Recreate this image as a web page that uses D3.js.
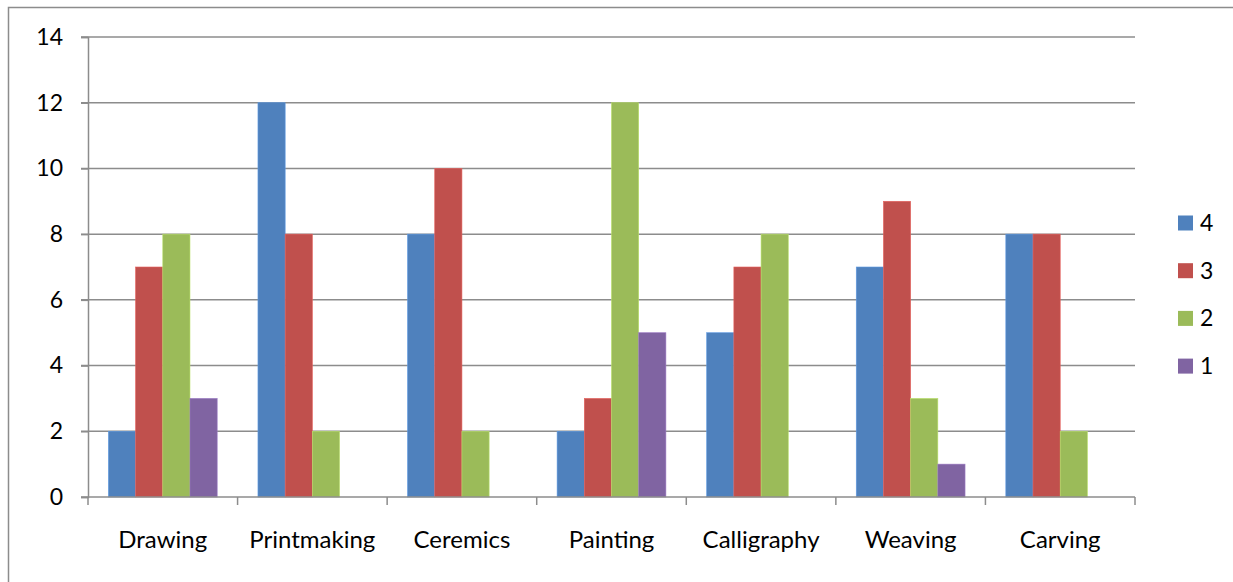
<!DOCTYPE html>
<html>
<head>
<meta charset="utf-8">
<script src="https://cdn.jsdelivr.net/npm/d3@7/dist/d3.min.js"></script>
<style>
  html, body { margin: 0; padding: 0; background: #fff; }
  svg { display: block; }
  text { font-family: Lato, "Open Sans", sans-serif; fill: #000; }
</style>
</head>
<body>
<svg id="chart" width="1233" height="582"></svg>
<script>
// Crafts and the count of ratings per level
const categories = ["Drawing", "Printmaking", "Ceremics", "Painting", "Calligraphy", "Weaving", "Carving"];
const seriesNames = ["4", "3", "2", "1"];
const series4 = [2, 12, 8, 2, 5, 7, 8];
const series3 = [7, 8, 10, 3, 7, 9, 8];
const series2 = [8, 2, 2, 12, 8, 3, 2];
const series1 = [3, 0, 0, 5, 0, 1, 0];
const yTicks = [0, 2, 4, 6, 8, 10, 12, 14];
const colors = ["#4F81BD", "#C0504D", "#9BBB59", "#8064A2"];

const seriesValues = [series4, series3, series2, series1];
const rows = categories.map((c, i) => ({
  category: c,
  values: seriesNames.map((s, j) => ({ key: s, value: seriesValues[j][i], color: colors[j] }))
}));

const svg = d3.select("#chart");
const plot = { left: 88, right: 1135, top: 37, bottom: 497 };
const fontSize = 23;

// Outer chart frame
svg.append("rect")
  .attr("x", 8.5).attr("y", 7.5)
  .attr("width", 1240).attr("height", 600)
  .attr("fill", "none").attr("stroke", "#8c8c8c").attr("stroke-width", 1.5);

const x = d3.scaleBand().domain(categories).range([plot.left, plot.right]).paddingInner(0).paddingOuter(0);
const y = d3.scaleLinear().domain([0, 14]).range([plot.bottom, plot.top]);
// 4 bars per group with a gap of 150% of one bar width
const barW = x.bandwidth() / (seriesNames.length + 1.5);
const xs = d3.scaleBand().domain(seriesNames)
  .range([barW * 0.75, barW * 0.75 + barW * seriesNames.length]).padding(0);

const gridColor = "#8c8c8c";

// Horizontal gridlines with tick stubs
svg.append("g").selectAll("line").data(yTicks.filter(t => t > 0)).join("line")
  .attr("x1", plot.left - 7).attr("x2", plot.right)
  .attr("y1", d => y(d)).attr("y2", d => y(d))
  .attr("stroke", gridColor).attr("stroke-width", 1.5);

// Bars
const groups = svg.append("g").selectAll("g").data(rows).join("g")
  .attr("transform", d => `translate(${x(d.category)},0)`);
groups.selectAll("rect").data(d => d.values.filter(v => v.value > 0)).join("rect")
  .attr("x", d => xs(d.key)).attr("width", xs.bandwidth())
  .attr("y", d => y(d.value)).attr("height", d => y(0) - y(d.value))
  .attr("fill", d => d.color)
  .attr("stroke", d => d3.color(d.color).brighter(0.5)).attr("stroke-width", 0.6);

// Y axis
const yAxis = d3.axisLeft(y).tickValues(yTicks).tickSize(7).tickPadding(18).tickFormat(d3.format("d"));
const gy = svg.append("g").attr("transform", `translate(${plot.left},0)`).call(yAxis);
gy.select(".domain").attr("stroke", gridColor).attr("stroke-width", 1.5);
gy.selectAll(".tick line").attr("stroke", gridColor).attr("stroke-width", 1.5);
gy.selectAll(".tick text").attr("font-size", fontSize).attr("font-family", "Lato, sans-serif").attr("fill", "#000");

// X axis with ticks at category boundaries
const gx = svg.append("g");
gx.append("line")
  .attr("x1", plot.left - 7).attr("x2", plot.right)
  .attr("y1", y(0)).attr("y2", y(0))
  .attr("stroke", gridColor).attr("stroke-width", 1.5);
const boundaries = categories.map(c => x(c)).concat([plot.right]);
gx.selectAll("line.tick").data(boundaries).join("line").attr("class", "tick")
  .attr("x1", d => d).attr("x2", d => d)
  .attr("y1", y(0)).attr("y2", y(0) + 8)
  .attr("stroke", gridColor).attr("stroke-width", 1.5);
gx.selectAll("text").data(categories).join("text")
  .attr("x", d => x(d) + x.bandwidth() / 2).attr("y", 548)
  .attr("text-anchor", "middle").attr("font-size", 24)
  .text(d => d);

// Legend
const legend = svg.append("g").selectAll("g").data(seriesNames).join("g")
  .attr("transform", (d, i) => `translate(1178,${223 + i * 47.7})`);
legend.append("rect")
  .attr("x", 0).attr("y", -7.5).attr("width", 15).attr("height", 15)
  .attr("fill", (d, i) => colors[i]);
legend.append("text")
  .attr("x", 22).attr("y", 8).attr("font-size", fontSize)
  .text(d => d);
</script>
</body>
</html>
